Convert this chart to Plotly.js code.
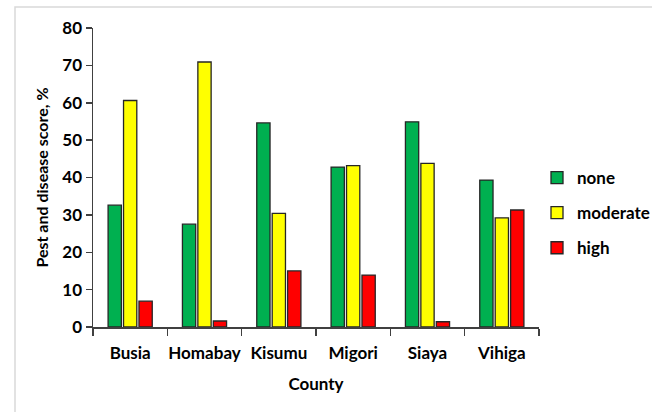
<!DOCTYPE html>
<html><head><meta charset="utf-8">
<script src="https://cdn.plot.ly/plotly-3.0.1.min.js"></script>
<style>html,body{margin:0;padding:0;background:#fff}#c{width:652px;height:412px}</style>
</head><body><div id="c"></div>
<script>
const counties = ["Busia","Homabay","Kisumu","Migori","Siaya","Vihiga"];
const none = [32.6, 27.5, 54.6, 42.8, 54.9, 39.3];
const moderate = [60.6, 70.9, 30.4, 43.2, 43.8, 29.2];
const high = [6.9, 1.6, 15.0, 13.9, 1.4, 31.3];
const seriesNames = ["none","moderate","high"];
const colors = ["#00b050","#ffff00","#ff0000"];
const yTicks = [0,10,20,30,40,50,60,70,80];

const vals = [none, moderate, high];
const traces = vals.map((v,i)=>({
  type:'bar', x:counties, y:v, name:seriesNames[i], legendgroup:'g'+i,
  marker:{color:colors[i], line:{color:'#262626', width:1.3}}
}));
const F = 'Lato, "Liberation Sans", sans-serif';
const layout = {
  width:652, height:412,
  margin:{l:93, r:113, t:28, b:85, autoexpand:false},
  paper_bgcolor:'#fff', plot_bgcolor:'#fff',
  barmode:'group', bargap:0.377, bargroupgap:0.14,
  font:{family:F, color:'#000'},
  showlegend:true,
  legend:{xref:'container', yref:'container', x:537/652, y:1-160/412, xanchor:'left', yanchor:'top',
    font:{size:17, family:F, weight:'bold'},
    bgcolor:'rgba(0,0,0,0)', tracegroupgap:10, itemwidth:30, traceorder:'grouped'},
  xaxis:{showline:true, linecolor:'#404040', linewidth:1.5, ticks:'outside', tickson:'boundaries',
    ticklen:7, tickcolor:'#404040', tickwidth:1.5, showgrid:false, tickangle:0, ticklabelstandoff:10,
    tickfont:{size:17, family:F, weight:'bold'},
    title:{text:'County', font:{size:17, family:F, weight:'bold'}, standoff:16}},
  yaxis:{range:[0,80], tickvals:yTicks, showline:true, linecolor:'#404040', linewidth:1.5,
    ticks:'outside', ticklen:6, tickcolor:'#404040', tickwidth:1.5, showgrid:false, zeroline:false,
    tickfont:{size:17, family:F, weight:'bold'},
    title:{text:'Pest and disease score, %', font:{size:16, family:F, weight:'bold'}, standoff:10}},
  shapes:[{type:'rect', xref:'paper', yref:'paper',
    x0:(15-93)/446, x1:(660-93)/446, y0:(327-420)/299, y1:(327-7)/299,
    line:{color:'#d9d9d9', width:1.5}, fillcolor:'rgba(0,0,0,0)', layer:'below'}]
};
Plotly.newPlot('c', traces, layout, {displayModeBar:false, staticPlot:true});
</script></body></html>
